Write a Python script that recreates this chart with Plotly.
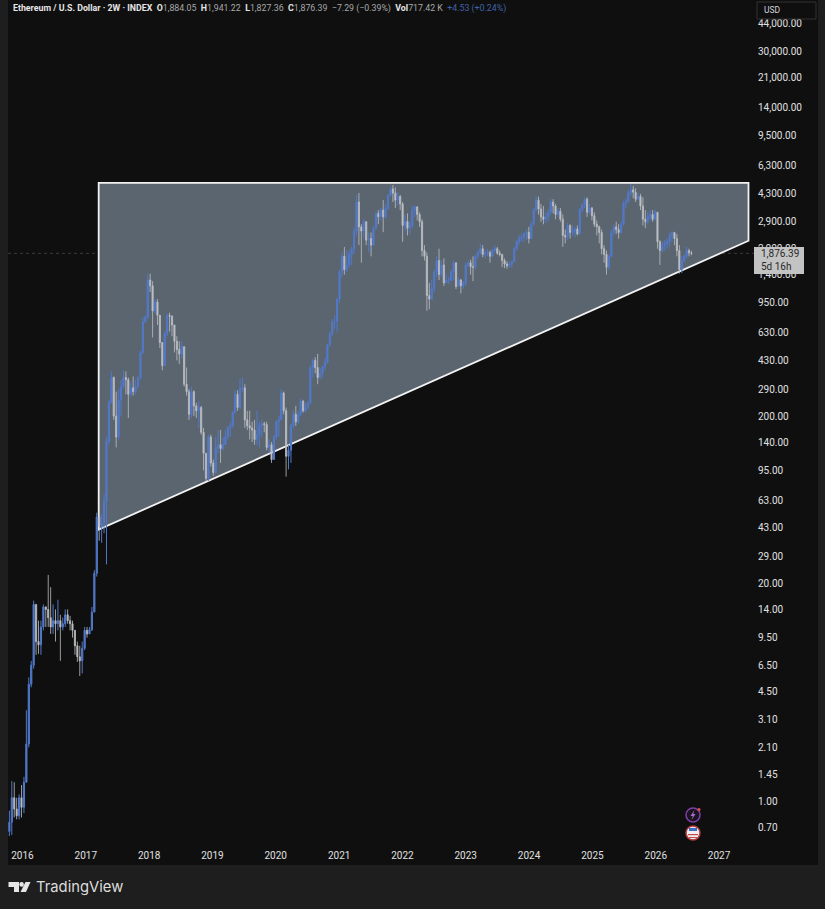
import pandas as pd
import plotly.graph_objects as go

# two week candles, opens are the previous close
closes = [
    0.75, 1.05, 0.90, 0.82, 1.05, 0.92, 1.3, 2.2, 5.0, 6.5,
    15, 9, 8.6, 11, 14.5, 14, 12.5, 11, 12, 11.5,
    12, 11, 11.5, 13, 12, 11.5, 10.5, 8.5, 7.3, 6.9,
    8.2, 10.5, 10, 10.6, 13.5, 23, 50, 44, 46, 62,
    141, 240, 340, 200, 150, 250, 300, 340, 330, 270,
    295, 280, 300, 340, 480, 730, 780, 1300, 1200, 850,
    960, 800, 550, 400, 620, 800, 790, 700, 560, 500,
    470, 520, 310, 280, 205, 280, 230, 215, 225, 160,
    120, 85, 150, 105, 92, 130, 135, 128, 135, 150,
    170, 175, 210, 270, 225, 290, 295, 190, 175, 170,
    165, 145, 155, 175, 180, 178, 130, 135, 110, 150,
    185, 190, 275, 215, 115, 125, 175, 205, 185, 205,
    245, 215, 225, 240, 390, 430, 390, 340, 360, 395,
    420, 530, 620, 730, 735, 1000, 1450, 1800, 1500, 1600,
    1850, 2000, 2550, 3800, 2700, 2550, 2900, 2250, 2300, 2100,
    2650, 3250, 3100, 3400, 3100, 3500, 4150, 4550, 4300, 3900,
    4100, 3700, 2750, 2900, 2650, 2750, 3400, 3550, 3200, 2900,
    1950, 1800, 1050, 1000, 1150, 1450, 1700, 1400, 1600, 1250,
    1300, 1300, 1450, 1650, 1190, 1300, 1200, 1250, 1600, 1650,
    1560, 1550, 1800, 1900, 2000, 1850, 1870, 1900, 1800, 1960,
    2000, 1880, 1850, 1700, 1620, 1580, 1620, 1670, 2000, 2200,
    2300, 2350, 2450, 2500, 2300, 2800, 3400, 3900, 3450, 3100,
    3000, 3100, 3300, 3800, 3600, 3200, 3350, 3000, 2400, 2350,
    2750, 2500, 2550, 2620, 2450, 3400, 3650, 3950, 3300, 3500,
    3150, 2800, 2700, 2500, 2000, 1850, 1550, 1800, 2500, 2700,
    2600, 2500, 2800, 3700, 3850, 4300, 4500, 4350, 3950, 4100,
    3600, 3000, 2900, 3100, 3200, 3000, 3300, 2200, 1950, 2100,
    2150, 2200, 2400, 2500, 2300, 1950, 1500, 1700, 1800, 1950,
    1884.05, 1876.39,
]
highs = [
    0.88, 1.32, 1.30, 1.05, 1.10, 1.25, 1.4, 3.5, 5.5, 6.9,
    15.8, 15, 12, 12, 15, 14.6, 22.5, 19, 15, 14,
    16, 13, 12.5, 14, 14, 12.8, 12, 10.5, 9, 8.5,
    9, 11, 11, 11, 14.5, 24, 53, 53, 52, 68,
    150, 250, 370, 345, 280, 290, 330, 375, 370, 340,
    320, 345, 330, 345, 490, 780, 800, 1420, 1420, 1280,
    1000, 1000, 780, 540, 640, 820, 830, 800, 700, 600,
    560, 560, 520, 390, 290, 300, 285, 240, 245, 230,
    170, 120, 155, 155, 110, 150, 165, 165, 150, 165,
    175, 185, 215, 285, 285, 335, 340, 310, 215, 215,
    185, 190, 215, 185, 190, 185, 185, 145, 140, 155,
    190, 200, 290, 280, 225, 135, 180, 215, 230, 215,
    255, 250, 240, 245, 400, 440, 450, 470, 390, 400,
    445, 540, 640, 760, 800, 1000, 1500, 1900, 2050, 1950,
    1950, 2050, 2650, 4200, 4300, 2800, 3000, 2900, 2500, 2500,
    2750, 3300, 3400, 3500, 3900, 3700, 4250, 4700, 4800, 4650,
    4350, 4200, 3800, 3200, 3250, 2950, 3600, 3650, 3600, 3300,
    3000, 2100, 1900, 1250, 1300, 1500, 1800, 2000, 1700, 1750,
    1400, 1350, 1500, 1700, 1650, 1350, 1320, 1280, 1650, 1700,
    1720, 1800, 1850, 1950, 2150, 2100, 1950, 2000, 1950, 2000,
    2100, 2050, 1950, 1850, 1750, 1680, 1680, 1700, 2050, 2250,
    2400, 2450, 2500, 2600, 2700, 2900, 3500, 4100, 4100, 3700,
    3600, 3300, 3450, 3950, 3950, 3700, 3500, 3500, 3200, 2600,
    2850, 2800, 2750, 2700, 2750, 3500, 3750, 4050, 4050, 3700,
    3550, 3300, 2950, 2750, 2600, 2100, 1950, 1850, 2600, 2800,
    2900, 2800, 2900, 3850, 4000, 4500, 4850, 4750, 4600, 4300,
    4250, 4050, 3400, 3300, 3400, 3400, 3400, 3300, 2250, 2200,
    2250, 2300, 2500, 2550, 2500, 2450, 2100, 1800, 1850, 2050,
    2000, 1941.22,
]
lows = [
    0.62, 0.63, 0.80, 0.78, 0.78, 0.80, 0.85, 1.3, 2.1, 4.8,
    6.2, 7.5, 7.6, 7.5, 10.5, 11, 11, 10, 10, 9,
    10.5, 6.9, 10.5, 11, 11.5, 10.5, 9.5, 7.5, 6.8, 5.6,
    5.8, 8, 9.5, 10, 10.4, 13.5, 22, 36, 35, 40,
    26, 135, 240, 190, 130, 145, 200, 290, 270, 195,
    260, 265, 270, 295, 330, 470, 720, 760, 1100, 590,
    820, 700, 510, 375, 400, 600, 640, 600, 480, 430,
    410, 440, 300, 265, 190, 195, 200, 195, 170, 155,
    95, 82, 82, 100, 88, 90, 120, 105, 125, 135,
    145, 150, 170, 205, 215, 220, 280, 170, 165, 145,
    140, 135, 135, 130, 150, 160, 125, 120, 105, 110,
    145, 150, 190, 205, 87, 96, 105, 170, 175, 180,
    200, 210, 210, 220, 235, 340, 360, 310, 330, 340,
    375, 410, 520, 600, 660, 640, 950, 1350, 1400, 1450,
    1550, 1600, 1850, 2400, 2100, 1650, 2300, 2100, 1900, 1800,
    2100, 2600, 2800, 2950, 2510, 3000, 3400, 4100, 3800, 3500,
    3600, 3400, 2200, 2550, 2400, 2450, 2650, 3100, 2950, 2700,
    1800, 1700, 850, 870, 990, 1100, 1350, 1300, 1350, 1200,
    1250, 1230, 1270, 1300, 1150, 1200, 1080, 1150, 1200, 1550,
    1400, 1280, 1500, 1750, 1850, 1780, 1750, 1800, 1650, 1780,
    1900, 1840, 1800, 1550, 1530, 1520, 1540, 1540, 1660, 1950,
    2100, 2200, 2200, 2250, 2150, 2300, 2750, 3300, 3200, 2900,
    2800, 2850, 2900, 3200, 3250, 3000, 3100, 2900, 2050, 2150,
    2250, 2300, 2400, 2350, 2400, 2450, 3300, 3500, 3100, 3200,
    2950, 2700, 2400, 2150, 1850, 1650, 1400, 1500, 1780, 2400,
    2450, 2300, 2450, 2750, 3500, 3750, 4100, 4000, 3800, 3900,
    3400, 2750, 2650, 2800, 2950, 2900, 2950, 2000, 1600, 1900,
    1950, 2000, 2050, 2200, 2100, 1800, 1420, 1430, 1650, 1750,
    1800, 1827.36,
]
opens = [0.66] + closes[:-1]
dates = pd.date_range("2015-10-18", periods=len(closes), freq="14D")

price_ticks = [44000, 30000, 21000, 14000, 9500, 6300, 4300, 2900, 2000, 1400,
               950, 630, 430, 290, 200, 140, 95, 63, 43, 29,
               20, 14, 9.5, 6.5, 4.5, 3.1, 2.1, 1.45, 1.00, 0.70]
year_ticks = ["2016", "2017", "2018", "2019", "2020", "2021",
              "2022", "2023", "2024", "2025", "2026", "2027"]
wedge_dates = ["2017-03-16", "2027-06-20", "2027-06-20", "2017-03-16"]
wedge_prices = [4950, 4950, 2230, 42]
last_price = 1876.39

BLUE = "#5279c9"
PALE = "#bcbfc3"
W = 825
H = 909
LEFT = 8
RIGHT = 757
BOTTOM = 848


def px(x):
    return (x - LEFT) / (RIGHT - LEFT)


def py(y):
    return 1 - y / BOTTOM


def paper_path(points):
    return "M" + " L".join(f"{px(a):.5f},{py(b):.5f}" for a, b in points) + " Z"


def circle(x, y, r, **kw):
    return dict(type="circle", xref="paper", yref="paper", x0=px(x - r), x1=px(x + r),
                y0=py(y + r), y1=py(y - r), **kw)


def box(x0, y0, x1, y1, **kw):
    return dict(type="rect", xref="paper", yref="paper", x0=px(x0), x1=px(x1),
                y0=py(y1), y1=py(y0), **kw)


fig = go.Figure()
fig.add_trace(go.Candlestick(
    x=dates, open=opens, high=highs, low=lows, close=closes,
    increasing=dict(line=dict(color=BLUE, width=1), fillcolor=BLUE),
    decreasing=dict(line=dict(color=PALE, width=0.8), fillcolor=PALE),
    whiskerwidth=0, showlegend=False, hoverinfo="skip",
))

wedge = "M" + " L".join(f"{d},{p}" for d, p in zip(wedge_dates, wedge_prices)) + " Z"
shapes = [
    # dark chart panel behind everything
    box(8, 0, 818, 865, fillcolor="#0f0f0f", line=dict(width=0), layer="below"),
    dict(type="path", xref="x", yref="y", path=wedge, fillcolor="#5b6570",
         line=dict(color="#f2f2f2", width=1.8), layer="below"),
    dict(type="line", xref="paper", yref="y", x0=0, x1=1, y0=last_price, y1=last_price,
         line=dict(color="#4e4e4e", width=0.7, dash="dot"), layer="below"),
    # USD box
    box(757, 2, 816, 19, line=dict(color="#333333", width=1), fillcolor="#0f0f0f"),
    # last price tag, covers parts of the tick labels next to it
    box(754, 247, 804, 274, fillcolor="#c3c3c3", line=dict(width=0)),
    # TradingView logo
    dict(type="path", xref="paper", yref="paper", fillcolor="#e6e6e6", line=dict(width=0),
         path=paper_path([(8.5, 882), (19, 882), (19, 892), (14, 892), (14, 887), (8.5, 887)])),
    circle(21.6, 884.4, 2.3, fillcolor="#e6e6e6", line=dict(width=0)),
    dict(type="path", xref="paper", yref="paper", fillcolor="#e6e6e6", line=dict(width=0),
         path=paper_path([(25.5, 882), (30.5, 882), (26, 892), (20.5, 892)])),
    # event icons
    circle(693, 815, 7, fillcolor="#1b1420", line=dict(color="#7d3fa8", width=1.5)),
    dict(type="path", xref="paper", yref="paper", fillcolor="#a46fd0", line=dict(width=0),
         path=paper_path([(694.5, 810), (690.5, 816), (692.8, 816), (691.5, 820), (695.5, 814), (693.2, 814)])),
    circle(699, 809.5, 1.6, fillcolor="#e0524d", line=dict(width=0)),
    circle(693, 833, 7, fillcolor="#f0f0f0", line=dict(color="#b23a3a", width=1.5)),
    box(689, 828, 697, 831, fillcolor="#3f6fc4", line=dict(width=0)),
    box(688, 834, 698, 835.2, fillcolor="#c94a4a", line=dict(width=0)),
    box(689, 837, 697, 838, fillcolor="#c94a4a", line=dict(width=0)),
]

header = (
    "<b>Ethereum / U.S. Dollar · 2W · INDEX</b>  "
    "<b>O</b><span style='color:#a8a8a8'>1,884.05</span>  "
    "<b>H</b><span style='color:#a8a8a8'>1,941.22</span>  "
    "<b>L</b><span style='color:#a8a8a8'>1,827.36</span>  "
    "<b>C</b><span style='color:#a8a8a8'>1,876.39</span>  "
    "<span style='color:#a8a8a8'>−7.29 (−0.39%)</span>  "
    "<b>Vol</b><span style='color:#a8a8a8'>717.42 K</span>  "
    "<span style='color:#3f62a8'>+4.53 (+0.24%)</span>"
)
annotations = [
    dict(text=header, x=px(11), y=py(9), font=dict(size=8.8, color="#e6e6e6")),
    dict(text="USD", x=px(762), y=py(10), font=dict(size=8.5, color="#d1d4dc")),
    dict(text="TradingView", x=px(33.5), y=py(887), font=dict(size=14.8, color="#dcdcdc", family="Inter")),
    dict(text="1,876.39<br>5d 16h", x=px(759), y=py(260), align="left",
         font=dict(size=10, color="#2a2a2a")),
]
for a in annotations:
    a.update(xref="paper", yref="paper", xanchor="left", yanchor="middle", showarrow=False)

fig.update_layout(
    width=W, height=H,
    margin=dict(l=LEFT, r=W - RIGHT, t=0, b=H - BOTTOM),
    paper_bgcolor="#1e1e1e", plot_bgcolor="rgba(0,0,0,0)",
    font=dict(family="Roboto", color="#e0e0e0", size=10),
    shapes=shapes, annotations=annotations,
    xaxis=dict(
        type="date", range=["2015-10-10", "2027-08-08"],
        tickvals=[f"{y}-01-01" for y in year_ticks], ticktext=year_ticks,
        showgrid=False, zeroline=False, showline=False, ticks="",
        rangeslider=dict(visible=False), tickfont=dict(size=10, color="#e0e0e0"),
    ),
    yaxis=dict(
        type="log", side="right", range=[-0.279, 4.7866],
        tickvals=price_ticks, ticktext=[f"{v:,.2f}" for v in price_ticks],
        showgrid=False, zeroline=False, showline=False, ticks="",
        tickfont=dict(size=10, color="#e0e0e0"),
    ),
)

fig.write_html("out.html", config=dict(displayModeBar=False),
               post_script="document.body.style.margin='0';")
